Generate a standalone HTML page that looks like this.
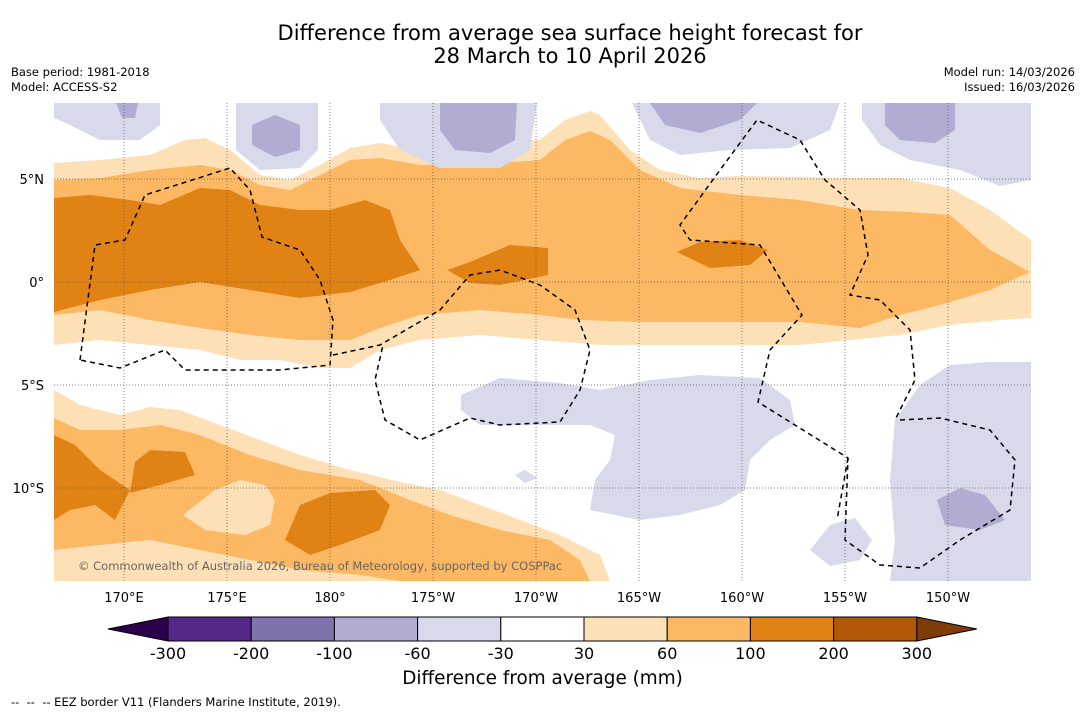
<!DOCTYPE html>
<html><head><meta charset="utf-8"><style>
body{margin:0;background:#fff;font-family:"DejaVu Sans","Liberation Sans",sans-serif;}
#wrap{position:relative;width:1085px;height:713px;overflow:hidden;background:#fff}
.t{position:absolute;white-space:nowrap;color:#000}
</style></head><body>
<div id="wrap">
<div class="t" style="left:0;width:1140px;text-align:center;top:22px;font-size:21px;line-height:23px">Difference from average sea surface height forecast for<br>28 March to 10 April 2026</div>
<div class="t" style="left:11px;top:65px;font-size:11.5px;line-height:15px">Base period: 1981-2018<br>Model: ACCESS-S2</div>
<div class="t" style="right:10px;top:65px;font-size:11.5px;line-height:15px;text-align:right">Model run: 14/03/2026<br>Issued: 16/03/2026</div>
<svg id="map" width="1085" height="713" style="position:absolute;left:0;top:0">
<defs><clipPath id="mc"><rect x="54" y="103" width="977" height="478"/></clipPath></defs>
<g clip-path="url(#mc)">
<path fill="#fee0b6" d="M54,163 L100,160 150,155 185,140 205,138 230,150 260,175 290,180 320,165 350,148 380,143 420,150 460,150 500,140 540,140 565,120 590,111 600,115 630,150 660,170 700,178 740,176 850,178 900,178 950,188 990,210 1031,240 L1031,318 1000,320 950,325 900,335 850,340 800,345 600,345 540,340 480,335 420,340 380,350 350,368 320,368 280,360 240,360 200,350 150,345 100,340 54,345Z"/>
<path fill="#fdb863" d="M54,180 L100,178 150,170 200,165 230,170 260,185 290,190 330,170 350,160 380,158 420,165 500,163 540,160 565,140 590,131 610,140 640,170 680,188 740,195 800,200 860,210 910,212 950,215 990,250 1030,272 990,290 940,305 900,315 860,328 800,322 640,322 580,320 540,315 480,310 420,315 380,328 350,340 300,340 250,335 200,328 150,320 100,310 54,315Z"/>
<path fill="#e08214" d="M54,198 L90,195 130,200 160,205 200,188 230,190 260,205 300,210 330,210 365,200 390,210 400,240 420,270 390,280 350,292 300,298 250,290 200,282 150,290 100,300 54,312Z M447,270 L470,262 510,245 548,248 548,275 500,285 470,283Z M677,252 L700,242 740,240 768,250 750,265 710,268Z"/>
<path fill="#d8daeb" d="M54,103 L160,103 160,125 140,140 100,140 70,125 54,118Z M236,103 L318,103 318,150 300,168 260,170 236,150Z M380,103 L537,103 530,150 500,168 440,168 400,150 380,120Z M632,103 L840,103 830,130 790,148 730,150 680,155 650,140Z M862,103 L1031,103 1031,180 1000,186 960,170 910,160 880,145 862,120Z"/>
<path fill="#b2abd2" d="M116,103 L138,103 135,118 122,118Z M252,125 L275,115 300,125 300,150 275,157 252,145Z M440,103 L517,103 515,140 490,153 455,150 440,130Z M650,103 L757,103 740,120 700,133 665,125Z M885,103 L955,103 955,130 935,143 900,140 885,125Z"/>
<path fill="#d8daeb" d="M461,395 L500,378 560,383 600,390 650,380 700,375 760,378 790,400 795,425 770,440 750,460 745,490 720,505 680,515 640,520 590,510 595,480 610,460 615,435 590,425 540,425 480,425 461,410Z M515,475 L525,470 537,478 525,483Z M895,420 L920,385 950,365 990,362 1031,362 1031,581 890,581 895,540 890,480Z M810,550 L830,525 855,518 872,540 860,560 830,566Z"/>
<path fill="#b2abd2" d="M937,500 L960,488 985,495 1005,520 980,530 945,525Z"/>
<path fill="#fee0b6" d="M54,390 L80,405 120,415 150,407 180,410 220,425 260,440 300,455 350,470 400,482 440,490 480,505 520,520 560,535 600,555 610,581 54,581Z"/>
<path fill="#fdb863" d="M54,418 L80,430 120,430 160,425 200,435 250,455 300,470 360,480 410,500 450,515 500,530 550,540 580,560 590,581 400,581 360,575 300,570 250,560 200,550 150,540 100,545 54,550Z"/>
<path fill="#fee0b6" d="M183,515 L215,490 240,480 265,485 275,500 270,525 245,535 205,530Z"/>
<path fill="#e08214" d="M54,435 L75,445 100,470 130,490 115,520 95,505 70,510 54,520Z M135,462 L150,450 185,452 195,475 160,485 130,493Z M300,505 L330,493 375,490 390,505 380,530 340,545 310,555 285,540Z"/>
<g fill="none" stroke="#000" stroke-width="1.5" stroke-dasharray="5,4">
<path d="M80,360 L95,245 125,240 145,195 230,168 250,190 262,237 300,250 320,280 333,320 330,365 280,370 185,370 165,350 120,368 80,360"/>
<path d="M333,355 L380,345 440,310 470,275 500,270 540,285 575,310 590,350 580,390 560,422 500,425 470,418 420,440 385,420 375,380 383,345"/>
<path d="M900,420 L940,418 990,430 1015,460 1010,510 960,540 920,568 880,565 845,540 848,458 758,402 770,350 802,315 760,245 690,240 680,225 720,170 757,120 800,140 825,180 860,210 868,255 850,295 880,300 910,330 915,380 895,420"/>
<path d="M848,458 L837,520"/>
</g>
</g>
<g stroke="#555" stroke-width="0.7" stroke-dasharray="1,2" id="grid"></g>
<text x="78" y="570" font-size="11.5" fill="#666" font-family="DejaVu Sans,sans-serif">© Commonwealth of Australia 2026, Bureau of Meteorology, supported by COSPPac</text>
<g id="axes" font-family="DejaVu Sans,sans-serif" font-size="13" fill="#000"></g>
<g id="cbar"></g>
</svg>
<div class="t" style="left:0;width:1085px;text-align:center;top:668px;font-size:18.4px">Difference from average (mm)</div>
<div class="t" style="left:11px;top:695px;font-size:11.5px">-- &nbsp;-- &nbsp;-- EEZ border V11 (Flanders Marine Institute, 2019).</div>
</div>
<script>
const lonTicks=[170,175,180,-175,-170,-165,-160,-155,-150];
const lonLabels=["170°E","175°E","180°","175°W","170°W","165°W","160°W","155°W","150°W"];
const latTicks=[5,0,-5,-10];
const latLabels=["5°N","0°","5°S","10°S"];
const levels=[-300,-200,-100,-60,-30,30,60,100,200,300];
const bandColors=["#542788","#8073ac","#b2abd2","#d8daeb","#ffffff","#fee0b6","#fdb863","#e08214","#b35806"];
const underColor="#2d004b",overColor="#7f3b08";
const NS="http://www.w3.org/2000/svg";
function lonX(l){let e=l<0?l+360:l;return 124+(e-170)*20.6;}
function latY(l){return 282-l*20.6;}
const grid=document.getElementById('grid'),axes=document.getElementById('axes');
lonTicks.forEach((l,i)=>{
 const ln=document.createElementNS(NS,'line');
 
 
 ln.setAttribute('x1',lonX(l));ln.setAttribute('x2',lonX(l));ln.setAttribute('y1',103);ln.setAttribute('y2',581);grid.appendChild(ln);
 const t=document.createElementNS(NS,'text');
 
 
 t.setAttribute('x',lonX(l));t.setAttribute('y',602);t.setAttribute('text-anchor','middle');t.textContent=lonLabels[i];axes.appendChild(t);
});
latTicks.forEach((l,i)=>{
 const ln=document.createElementNS(NS,'line');
 
 
 ln.setAttribute('x1',54);ln.setAttribute('x2',1031);ln.setAttribute('y1',latY(l));ln.setAttribute('y2',latY(l));grid.appendChild(ln);
 const t=document.createElementNS(NS,'text');
 
 
 t.setAttribute('x',44);t.setAttribute('y',latY(l)+5);t.setAttribute('text-anchor','end');t.textContent=latLabels[i];axes.appendChild(t);
});
const cb=document.getElementById('cbar');
const cx0=168,cw=83.2,cy=617,ch=24;
function addEl(tag,attrs,name){const e=document.createElementNS(NS,tag);for(const k in attrs)e.setAttribute(k,attrs[k]);
 
 
 cb.appendChild(e);return e;}
addEl('polygon',{points:`${cx0},${cy} ${cx0-60},${cy+ch/2} ${cx0},${cy+ch}`,fill:underColor,stroke:'#000','stroke-width':1},'colorbar-under-arrow');
bandColors.forEach((c,i)=>{addEl('rect',{x:cx0+i*cw,y:cy,width:cw,height:ch,fill:c,stroke:'#000','stroke-width':1},'colorbar-band');});
const ex=cx0+bandColors.length*cw;
addEl('polygon',{points:`${ex},${cy} ${ex+60},${cy+ch/2} ${ex},${cy+ch}`,fill:overColor,stroke:'#000','stroke-width':1},'colorbar-over-arrow');
levels.forEach((v,i)=>{const t=addEl('text',{x:cx0+i*cw,y:659,'text-anchor':'middle','font-size':16,'font-family':'DejaVu Sans,sans-serif'},'colorbar-tick-label');t.textContent=v;});
</script>
</body></html>
